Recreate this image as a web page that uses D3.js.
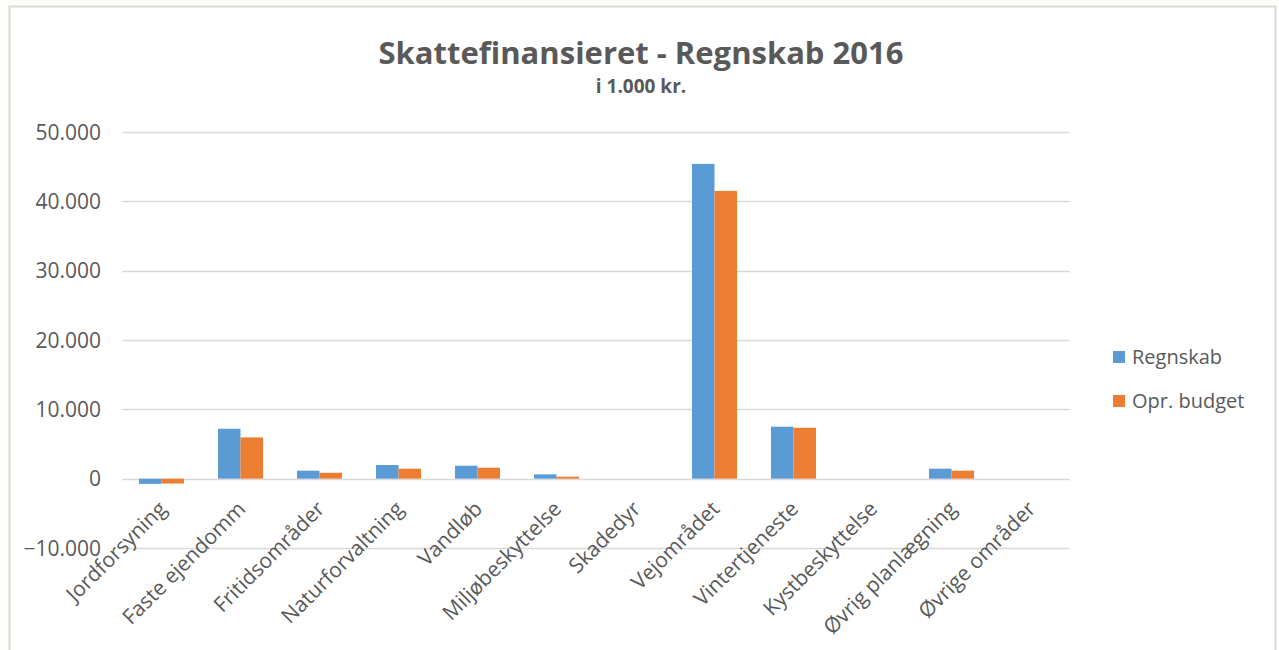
<!DOCTYPE html>
<html>
<head>
<meta charset="utf-8">
<script src="https://cdn.jsdelivr.net/npm/d3@7"></script>
<style>
  body { margin: 0; background: #fffdfa; }
  text { font-family: "Open Sans", sans-serif; fill: #595959; }
</style>
</head>
<body>
<svg></svg>
<script>
const categories = [
  "Jordforsyning", "Faste ejendomm", "Fritidsområder", "Naturforvaltning",
  "Vandløb", "Miljøbeskyttelse", "Skadedyr", "Vejområdet",
  "Vintertjeneste", "Kystbeskyttelse", "Øvrig planlægning", "Øvrige områder"
];
const regnskab = [-750, 7200, 1150, 1970, 1870, 620, 0, 45400, 7490, 0, 1440, 0];
const budget = [-700, 5950, 850, 1440, 1580, 290, 0, 41500, 7340, 0, 1150, 0];
const seriesNames = ["Regnskab", "Opr. budget"];
const colors = ["#5b9bd5", "#ed7d31"];
const yTicks = [-10000, 0, 10000, 20000, 30000, 40000, 50000];

const WIDTH = 1279, HEIGHT = 650;
const svg = d3.select("svg").attr("width", WIDTH).attr("height", HEIGHT);

// chart area frame
svg.append("rect")
  .attr("x", 9.5).attr("y", 6.5)
  .attr("width", 1266).attr("height", 660)
  .attr("fill", "#fff")
  .attr("stroke", "#d9d9d9")
  .attr("stroke-width", 2);

const plot = { left: 122, right: 1070, top: 132, bottom: 548 };

const x0 = d3.scaleBand().domain(categories).range([plot.left, plot.right]).paddingInner(0.43).paddingOuter(0.215);
const x1 = d3.scaleBand().domain(seriesNames).range([0, x0.bandwidth()]);
const y = d3.scaleLinear().domain([-10000, 50000]).range([plot.bottom, plot.top]);

const fmt = v => d3.format(",")(v).replace(/,/g, ".");

// gridlines
svg.append("g")
  .selectAll("line")
  .data(yTicks)
  .enter()
  .append("line")
  .attr("x1", plot.left)
  .attr("x2", plot.right)
  .attr("y1", d => Math.round(y(d)) + 0.5)
  .attr("y2", d => Math.round(y(d)) + 0.5)
  .attr("stroke", "#d9d9d9")
  .attr("stroke-width", 1.5);

// y labels
svg.append("g")
  .selectAll("text")
  .data(yTicks)
  .enter()
  .append("text")
  .attr("x", 101)
  .attr("y", d => y(d))
  .attr("dy", "0.36em")
  .attr("text-anchor", "end")
  .style("font-size", "21px")
  .text(d => fmt(d));

// bars
const rows = categories.map((c, i) => ({ cat: c, values: [regnskab[i], budget[i]] }));
svg.append("g")
  .selectAll("g")
  .data(rows)
  .enter()
  .append("g")
  .attr("transform", d => `translate(${x0(d.cat)},0)`)
  .selectAll("rect")
  .data(d => d.values.map((v, j) => ({ name: seriesNames[j], v, j })))
  .enter()
  .append("rect")
  .attr("x", d => x1(d.name))
  .attr("width", x1.bandwidth())
  .attr("y", d => y(Math.max(0, d.v)))
  .attr("height", d => Math.abs(y(d.v) - y(0)))
  .attr("fill", d => colors[d.j]);

// x labels
svg.append("g")
  .selectAll("text")
  .data(categories)
  .enter()
  .append("text")
  .attr("transform", d => `translate(${x0(d) + x0.bandwidth() / 2 + 1},505) rotate(-45)`)
  .attr("text-anchor", "end")
  .attr("dy", "0.35em")
  .style("font-size", "21px")
  .text(d => d);

// title
svg.append("text")
  .attr("x", 641).attr("y", 64)
  .attr("text-anchor", "middle")
  .style("font-size", "31px")
  .style("font-weight", "bold")
  .text("Skattefinansieret - Regnskab 2016");
svg.append("text")
  .attr("x", 641).attr("y", 93)
  .attr("text-anchor", "middle")
  .style("font-size", "19px")
  .style("font-weight", "bold")
  .text("i 1.000 kr.");

// legend
const legend = svg.append("g")
  .selectAll("g")
  .data(seriesNames)
  .enter()
  .append("g")
  .attr("transform", (d, i) => `translate(1113,${357 + i * 44})`);
legend.append("rect")
  .attr("x", 0).attr("y", -6)
  .attr("width", 12).attr("height", 12)
  .attr("fill", (d, i) => colors[i]);
legend.append("text")
  .attr("x", 19)
  .attr("dy", "0.35em")
  .style("font-size", "20px")
  .text(d => d);
</script>
</body>
</html>
